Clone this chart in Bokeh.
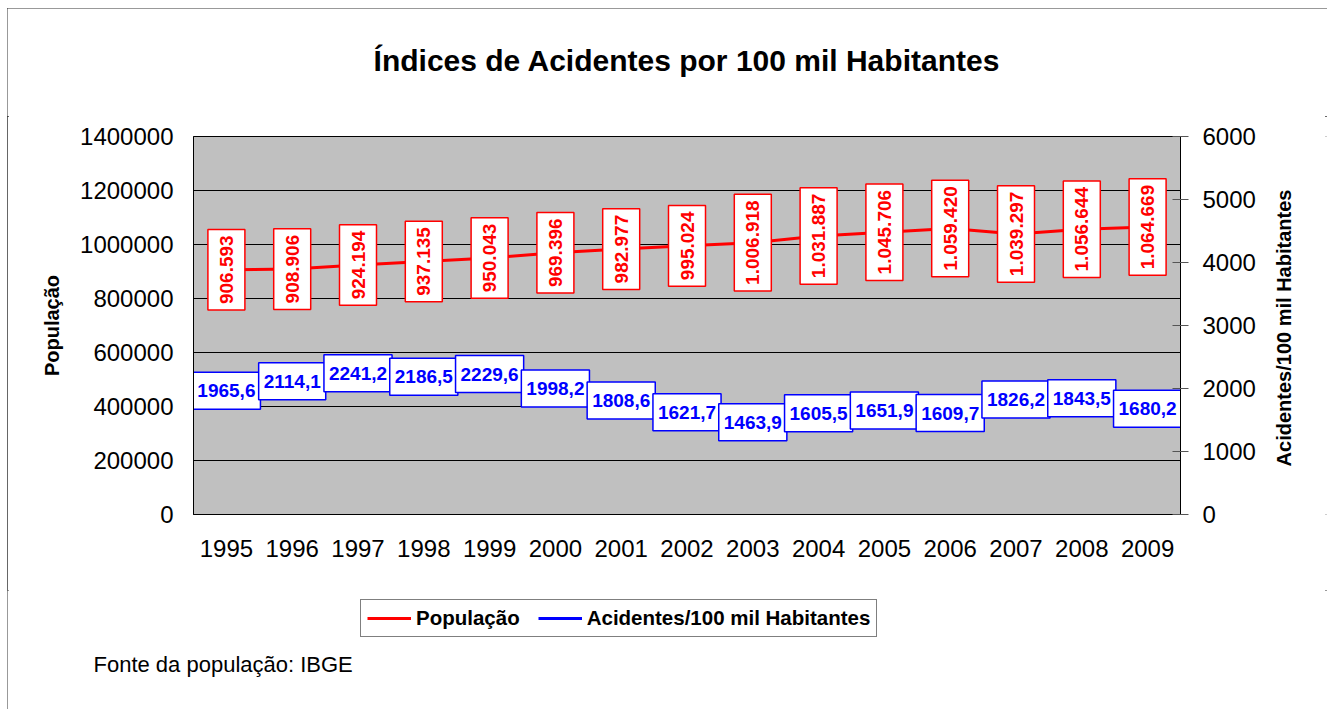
from math import pi
from bokeh.plotting import figure
from bokeh.layouts import column, row
from bokeh.models import (Range1d, FactorRange, LinearAxis, FixedTicker, NumeralTickFormatter,
                          ColumnDataSource, Legend, LegendItem, Label)
from bokeh.embed import file_html
from bokeh.resources import INLINE
from bokeh.core.properties import value

years = ["1995", "1996", "1997", "1998", "1999", "2000", "2001", "2002",
         "2003", "2004", "2005", "2006", "2007", "2008", "2009"]
populacao = [906593, 908906, 924194, 937135, 950043, 969396, 982977, 995024,
             1006918, 1031887, 1045706, 1059420, 1039297, 1056644, 1064669]
acidentes = [1965.6, 2114.1, 2241.2, 2186.5, 2229.6, 1998.2, 1808.6, 1621.7,
             1463.9, 1605.5, 1651.9, 1609.7, 1826.2, 1843.5, 1680.2]
left_ticks = [0, 200000, 400000, 600000, 800000, 1000000, 1200000, 1400000]
right_ticks = [0, 1000, 2000, 3000, 4000, 5000, 6000]

TITLE = "Índices de Acidentes por 100 mil Habitantes"
LEFT_LABEL = "População"
RIGHT_LABEL = "Acidentes/100 mil Habitantes"
FOOTER = "Fonte da população: IBGE"

FONT = "Liberation Sans"
RED = "#FF0000"
BLUE = "#0000FF"

pop_lbl = [f"{v:,}".replace(",", ".") for v in populacao]
acc_lbl = [f"{v:.1f}".replace(".", ",") for v in acidentes]

src = ColumnDataSource(dict(x=years, pop=populacao, acc=acidentes,
                            pop_lbl=pop_lbl, acc_lbl=acc_lbl))


def blank(width, height, x_range=None, y_range=None):
    f = figure(width=width, height=height, title=None, output_backend="svg",
               toolbar_location=None, x_axis_type=None, y_axis_type=None,
               x_range=x_range if x_range is not None else Range1d(0, 1),
               y_range=y_range if y_range is not None else Range1d(0, 1),
               min_border=0)
    f.outline_line_color = None
    f.background_fill_color = "white"
    f.border_fill_color = "white"
    f.xgrid.visible = False
    f.ygrid.visible = False
    return f


# ---------- title strip ----------
p0 = blank(1320, 108)
p0.add_layout(Label(x=679.5, y=56, x_units="screen", y_units="screen", text=TITLE,
                    text_align="center", text_baseline="middle", text_font=FONT,
                    text_font_size="30px", text_font_style="bold", text_color="black"))

# ---------- main plot ----------
p1 = figure(width=1262, height=474, title=None, x_range=FactorRange(factors=years),
            y_range=Range1d(0, 1400000), output_backend="svg", toolbar_location=None,
            min_border_left=186, min_border_right=89, min_border_top=20,
            min_border_bottom=76)
p1.extra_y_ranges = {"acc": Range1d(0, 6000)}
p1.background_fill_color = "#C0C0C0"
p1.border_fill_color = "white"
p1.outline_line_color = "black"
p1.outline_line_width = 1

p1.xgrid.grid_line_color = None
p1.ygrid.grid_line_color = "black"
p1.ygrid.grid_line_width = 1
p1.ygrid.ticker = FixedTicker(ticks=left_ticks)

red = p1.line("x", "pop", source=src, line_color=RED, line_width=3)
blue = p1.line("x", "acc", source=src, line_color=BLUE, line_width=3, y_range_name="acc")

p1.text(x="x", y="pop", text="pop_lbl", source=src, angle=pi / 2,
        text_align="center", text_baseline="middle", text_color=RED,
        text_font=value(FONT), text_font_style="bold", text_font_size="19px",
        background_fill_color="white", border_line_color=RED, border_line_width=1.5,
        padding=(6, 12))
p1.text(x="x", y="acc", text="acc_lbl", source=src, y_range_name="acc",
        text_align="center", text_baseline="middle", text_color=BLUE,
        text_font=value(FONT), text_font_style="bold", text_font_size="19px",
        background_fill_color="white", border_line_color=BLUE, border_line_width=1.5,
        padding=(5, 12))

xa = p1.xaxis[0]
xa.major_label_text_font = FONT
xa.major_label_text_font_size = "24px"
xa.major_label_text_color = "black"
xa.major_tick_in = 0
xa.major_tick_out = 0
xa.axis_line_color = "black"
xa.major_label_standoff = 25

ya = p1.yaxis[0]
ya.ticker = FixedTicker(ticks=left_ticks)
ya.formatter = NumeralTickFormatter(format="0")
ya.major_label_text_font = FONT
ya.major_label_text_font_size = "24px"
ya.major_label_text_color = "black"
ya.major_tick_in = 0
ya.major_tick_out = 0
ya.minor_tick_in = 0
ya.minor_tick_out = 0
ya.major_label_standoff = 20
ya.axis_line_color = "black"
ya.axis_label = LEFT_LABEL
ya.axis_label_text_font = FONT
ya.axis_label_text_font_size = "20px"
ya.axis_label_text_font_style = "bold"
ya.axis_label_text_color = "black"
ya.axis_label_standoff = 14

ra = LinearAxis(y_range_name="acc", ticker=FixedTicker(ticks=right_ticks),
                formatter=NumeralTickFormatter(format="0"))
ra.major_label_text_font = FONT
ra.major_label_text_font_size = "24px"
ra.major_label_text_color = "black"
ra.major_tick_in = 8
ra.major_tick_out = 8
ra.major_tick_line_color = "#555555"
ra.minor_tick_in = 0
ra.minor_tick_out = 0
ra.major_label_standoff = 14
ra.axis_line_color = "black"
p1.add_layout(ra, "right")

# ---------- right axis title strip (its frame is aligned with the main plot frame) ----------
pR = blank(58, 474)
pR.add_layout(Label(x=14, y=186.5, x_units="screen", y_units="screen", text=RIGHT_LABEL,
                    angle=pi / 2, text_align="center", text_baseline="middle",
                    text_font=FONT, text_font_size="20px", text_font_style="bold",
                    text_color="black"))

# ---------- legend + footer strip ----------
p2 = blank(1320, 119, x_range=FactorRange(factors=years), y_range=Range1d(0, 1))
red_k = p2.line("x", "pop", source=src, line_color=RED, line_width=3)
blue_k = p2.line("x", "acc", source=src, line_color=BLUE, line_width=3)

legend = Legend(items=[LegendItem(label=LEFT_LABEL, renderers=[red_k]),
                       LegendItem(label=RIGHT_LABEL, renderers=[blue_k])],
                orientation="horizontal", location=(353, 72))
legend.label_text_font = FONT
legend.label_text_font_size = "20.5px"
legend.label_text_font_style = "bold"
legend.label_text_color = "black"
legend.border_line_color = "black"
legend.border_line_width = 1
legend.background_fill_color = "white"
legend.padding = 6
legend.margin = 0
legend.spacing = 18
legend.glyph_width = 44
legend.glyph_height = 22
legend.label_height = 22
legend.label_standoff = 5
p2.add_layout(legend, "center")

p2.add_layout(Label(x=86, y=45, x_units="screen", y_units="screen", text=FOOTER,
                    text_align="left", text_baseline="middle", text_font=FONT,
                    text_font_size="22px", text_color="black"))

layout = column(p0, row(p1, pR), p2,
                styles={"margin-left": "7px", "margin-top": "8px",
                        "outline": "2px solid #333333", "outline-offset": "-2px"})

open("out.html", "w").write(file_html(layout, INLINE))
